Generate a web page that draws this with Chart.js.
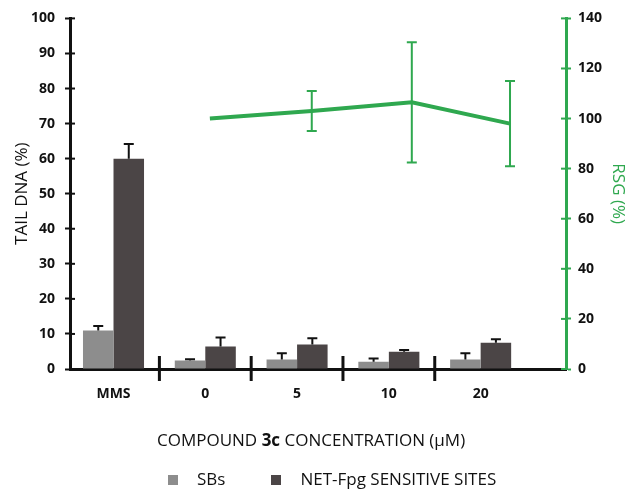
<!DOCTYPE html>
<html>
<head>
<meta charset="utf-8">
<script src="https://cdn.jsdelivr.net/npm/chart.js@4/dist/chart.umd.min.js"></script>
<style>
  body { margin: 0; background: #fff; }
  #wrap { position: relative; width: 628px; height: 490px; }
  #xtitle { position: absolute; left: 157px; top: 428px; font: 17px "Open Sans", sans-serif; color: #111; white-space: nowrap; }
  #legend { position: absolute; left: 168px; top: 467px; font: 17px "Open Sans", sans-serif; color: #111; white-space: nowrap; }
  #legend span.box { display: inline-block; width: 10px; height: 10px; margin-right: 19px; }
  #legend span.item { margin-right: 46px; }
</style>
</head>
<body>
<div id="wrap">
  <canvas id="chart" width="628" height="490"></canvas>
  <div id="xtitle">COMPOUND <b>3c</b> CONCENTRATION (µM)</div>
  <div id="legend"><span class="box" style="background:#8d8d8d"></span><span class="item">SBs</span><span class="box" style="background:#4b4546"></span><span>NET-Fpg SENSITIVE SITES</span></div>
</div>
<script>
let categories = ['MMS', '0', '5', '10', '20'];
let sbs = [11, 2.4, 2.7, 2.1, 2.7];
let sbsErr = [1.3, 0.4, 1.8, 0.9, 1.8];
let netFpg = [60, 6.4, 7, 4.9, 7.5];
let netFpgErr = [4.2, 2.6, 1.8, 0.5, 1.0];
// RSG points sit a little right of the bar groups in the original
let rsgX = [1.05, 2.16, 3.25, 4.32];
let rsg = [100, 103, 106.5, 98];
let rsgErr = [0, 8, 24, 17];

let green = '#2fa84f';

// error bars + separator ticks + inner halves of the y ticks
let extras = {
  id: 'extras',
  afterDatasetsDraw(chart) {
    let ctx = chart.ctx;
    let y = chart.scales.y, y2 = chart.scales.y2, x = chart.scales.x;
    ctx.save();
    ctx.lineWidth = 2;

    // bar error bars (upper only)
    [[sbs, sbsErr], [netFpg, netFpgErr]].forEach(([vals, errs], d) => {
      chart.getDatasetMeta(d).data.forEach((bar, i) => {
        let top = y.getPixelForValue(vals[i] + errs[i]);
        ctx.strokeStyle = '#111';
        ctx.beginPath();
        ctx.moveTo(bar.x, bar.y);
        ctx.lineTo(bar.x, top);
        ctx.moveTo(bar.x - 5, top);
        ctx.lineTo(bar.x + 5, top);
        ctx.stroke();
      });
    });

    // RSG error bars
    chart.getDatasetMeta(2).data.forEach((pt, i) => {
      let e = rsgErr[i];
      if (!e) return;
      let hi = y2.getPixelForValue(rsg[i] + e);
      let lo = y2.getPixelForValue(rsg[i] - e);
      ctx.strokeStyle = green;
      ctx.beginPath();
      ctx.moveTo(pt.x, hi); ctx.lineTo(pt.x, lo);
      ctx.moveTo(pt.x - 5, hi); ctx.lineTo(pt.x + 5, hi);
      ctx.moveTo(pt.x - 5, lo); ctx.lineTo(pt.x + 5, lo);
      ctx.stroke();
    });

    // separators between categories on the x axis
    ctx.lineWidth = 3;
    ctx.strokeStyle = '#111';
    let base = y.getPixelForValue(0);
    for (let i = 0; i < categories.length - 1; i++) {
      let px = x.getPixelForValue(i + 0.5);
      ctx.beginPath();
      ctx.moveTo(px, base - 13);
      ctx.lineTo(px, base + 12);
      ctx.stroke();
    }

    // inner halves of the y axis ticks
    ctx.lineWidth = 2;
    y.ticks.forEach(t => {
      let py = y.getPixelForValue(t.value);
      ctx.strokeStyle = '#111';
      ctx.beginPath(); ctx.moveTo(y.right, py); ctx.lineTo(y.right + 5, py); ctx.stroke();
    });
    y2.ticks.forEach(t => {
      let py = y2.getPixelForValue(t.value);
      ctx.strokeStyle = green;
      ctx.beginPath(); ctx.moveTo(y2.left - 5, py); ctx.lineTo(y2.left, py); ctx.stroke();
    });
    ctx.restore();
  }
};

let tickFont = { family: 'Open Sans', size: 14, weight: 'bold' };

let chart = new Chart(document.getElementById('chart').getContext('2d'), {
  type: 'bar',
  data: {
    datasets: [{
      label: 'SBs',
      data: sbs.map((v, i) => ({ x: i, y: v })),
      backgroundColor: '#8d8d8d',
      categoryPercentage: 0.665,
      barPercentage: 1,
      yAxisID: 'y'
    }, {
      label: 'NET-Fpg SENSITIVE SITES',
      data: netFpg.map((v, i) => ({ x: i, y: v })),
      backgroundColor: '#4b4546',
      categoryPercentage: 0.665,
      barPercentage: 1,
      yAxisID: 'y'
    }, {
      type: 'line',
      label: 'RSG',
      data: rsg.map((v, i) => ({ x: rsgX[i], y: v })),
      borderColor: green,
      borderWidth: 4,
      pointRadius: 0,
      yAxisID: 'y2'
    }]
  },
  options: {
    responsive: false,
    animation: { duration: 0 },
    layout: { padding: { top: 18, bottom: 91, left: 0, right: 0 } },
    scales: {
      x: {
        type: 'linear',
        offset: false,
        min: -0.474,
        max: 4.93,
        afterBuildTicks: s => { s.ticks = categories.map((c, i) => ({ value: i })); },
        afterFit: s => { s.height = 30; },
        ticks: {
          callback: v => categories[v],
          color: '#111',
          font: tickFont,
          padding: 9,
          maxRotation: 0
        },
        grid: { display: false, offset: false },
        border: { color: '#111', width: 3 }
      },
      y: {
        position: 'left',
        min: 0,
        max: 100,
        afterFit: s => { s.width = 70; },
        ticks: { stepSize: 10, color: '#111', font: tickFont, padding: 10 },
        grid: { drawOnChartArea: false, tickLength: 5, tickWidth: 2, tickColor: '#111' },
        border: { color: '#111', width: 3 },
        title: {
          display: true,
          text: 'TAIL DNA (%)',
          color: '#111',
          font: { family: 'Open Sans', size: 17 },
          padding: { top: 12, bottom: 0 }
        }
      },
      y2: {
        position: 'right',
        min: 0,
        max: 140,
        afterFit: s => { s.width = 62; },
        ticks: { stepSize: 20, color: '#111', font: tickFont, padding: 7 },
        grid: { drawOnChartArea: false, tickLength: 5, tickWidth: 2, tickColor: green },
        border: { color: green, width: 3 },
        title: {
          display: true,
          text: 'RSG (%)',
          color: green,
          font: { family: 'Open Sans', size: 17 },
          padding: { top: 0, bottom: 0 }
        }
      }
    },
    plugins: {
      legend: { display: false },
      tooltip: { enabled: false }
    }
  },
  plugins: [extras]
});
</script>
</body>
</html>
